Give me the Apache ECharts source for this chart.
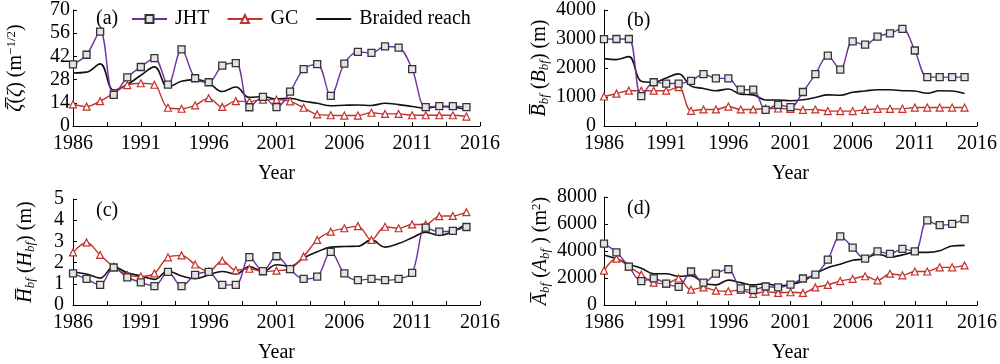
<!DOCTYPE html>
<html>
<head>
<meta charset="utf-8">
<script src="https://cdn.jsdelivr.net/npm/echarts@6/dist/echarts.min.js"></script>
<style>html,body{margin:0;padding:0;background:#fff}#c{width:1000px;height:364px}</style>
</head>
<body>
<div id="c"></div>
<script>
const years = [1986,1987,1988,1989,1990,1991,1992,1993,1994,1995,1996,1997,1998,1999,2000,2001,2002,2003,2004,2005,2006,2007,2008,2009,2010,2011,2012,2013,2014,2015];
const xLabelYears = [1986,1991,1996,2001,2006,2011,2016];
const xTickYears = [1986,1988.5,1991,1993.5,1996,1998.5,2001,2003.5,2006,2008.5,2011,2013.5,2016];
const seriesNames = ['JHT','GC','Braided reach'];

// (a) zeta
const zetaJHT = [37.2,43.0,57.0,18.8,29.4,35.6,40.9,25.0,46.2,28.8,26.4,36.4,38.0,11.3,17.6,11.4,20.8,34.3,37.3,18.2,37.6,44.7,44.1,48.0,47.3,34.3,11.4,12.0,12.0,11.4];
const zetaGC = [13.1,11.7,15.0,19.8,24.7,25.8,24.9,11.0,10.4,12.5,16.8,11.5,15.0,14.7,15.9,15.9,14.9,11.0,7.0,6.5,6.3,6.3,8.0,7.3,7.3,6.5,6.5,6.5,6.5,5.7];
const zetaBR = [32.0,32.5,37.5,21.6,25.0,30.6,35.7,23.5,27.0,28.0,26.0,20.8,23.5,17.3,17.8,16.3,16.7,14.9,13.7,12.2,12.5,12.7,12.4,13.7,12.9,11.8,10.8,11.8,11.4,10.0];
// (b) B_bf
const bJHT = [2994,3000,3000,1028,1508,1464,1464,1553,1788,1642,1642,1251,1251,559,726,648,1173,1788,2425,1944,2916,2804,3084,3196,3352,2603,1687,1687,1687,1687];
const bGC = [1017,1117,1218,1218,1218,1218,1341,525,570,570,670,570,570,603,603,592,559,570,514,514,514,559,592,592,592,637,637,637,637,637];
const bBR = [2324,2290,2391,1542,1508,1654,1799,1374,1296,1218,1274,1095,1073,894,894,872,905,983,1073,1061,1162,1207,1251,1251,1218,1207,1128,1218,1207,1117];
// (c) H_bf
const hJHT = [1.49,1.23,0.95,1.77,1.30,1.07,0.89,1.56,0.89,1.42,1.56,0.95,0.95,2.26,1.60,2.30,1.69,1.23,1.34,2.51,1.49,1.17,1.23,1.17,1.23,1.52,3.65,3.46,3.50,3.68];
const hGC = [2.48,2.95,2.36,1.80,1.42,1.34,1.49,2.25,2.34,1.91,1.58,2.09,1.64,1.71,1.58,1.62,1.71,2.29,3.07,3.46,3.62,3.72,3.07,3.69,3.62,3.80,3.80,4.19,4.20,4.38];
const hBR = [1.56,1.46,1.27,1.80,1.52,1.37,1.21,1.60,1.37,1.24,1.42,1.58,1.46,1.81,1.58,1.90,1.82,2.22,2.51,2.73,2.76,2.77,3.07,2.73,2.90,3.17,3.43,3.28,3.47,3.82];
// (d) A_bf
const aJHT = [4539,3900,2837,1773,1965,1582,1348,2482,1655,2317,2648,1229,1111,1371,1300,1513,1962,2246,3357,5083,4255,3428,3971,3782,4160,3971,6262,5910,6005,6359];
const aGC = [2553,3428,2837,2246,1655,1582,1962,1134,1300,1064,1017,1111,828,993,899,946,899,1300,1489,1773,1938,2128,1820,2317,2199,2482,2482,2790,2790,2931];
const aBR = [3711,3428,3026,2719,2317,2317,2128,2175,1655,1489,1844,1655,1489,1582,1418,1513,1773,2317,2766,3026,3310,3428,3782,3546,3711,3900,3900,4019,4374,4420];

const panels = [
  {label:'(a)', data:[zetaJHT,zetaGC,zetaBR], max:70, interval:14,
   name:'{ib|ζ\u0305}{n|(}{it|ζ}{n|) (m}{sup|−1/2}{n|)}', grid:{left:73,right:520,top:7,bottom:238}, lm:3, nameGap:46},
  {label:'(b)', data:[bJHT,bGC,bBR], max:4000, interval:1000,
   name:'{ib|B\u0305}{sub|bf}{n| (}{it|B}{sub|bf}{n|) (m)}', grid:{left:604,right:20,top:9,bottom:238}, lm:8, nameGap:53},
  {label:'(c)', data:[hJHT,hGC,hBR], max:5, interval:1,
   name:'{ib|H\u0305}{sub|bf}{n| (}{it|H}{sub|bf}{n|) (m)}', grid:{left:73,right:520,top:199,bottom:51}, lm:9, nameGap:36},
  {label:'(d)', data:[aJHT,aGC,aBR], max:8000, interval:2000,
   name:'{ib|A\u0305}{sub|bf}{n| (}{it|A}{sub|bf}{n| ) (m}{sup|2}{n|)}', grid:{left:604,right:20,top:197,bottom:54}, lm:7, nameGap:52}
];

const FONT = "'Liberation Serif','Times New Roman',serif";
const rich = {
  n:{fontFamily:FONT,fontSize:20,color:'#000',lineHeight:22},
  it:{fontFamily:FONT,fontSize:20,fontStyle:'italic',color:'#000',lineHeight:22},
  ib:{fontFamily:FONT,fontSize:20,fontStyle:'italic',color:'#000',lineHeight:22},
  sub:{fontFamily:FONT,fontSize:13,fontStyle:'italic',color:'#000',lineHeight:10,verticalAlign:'bottom'},
  sup:{fontFamily:FONT,fontSize:13,color:'#000',lineHeight:10,verticalAlign:'top'}
};
const plain = v => String(v);

const grids=[], xAxes=[], yAxes=[], series=[], titles=[];
panels.forEach((p,i)=>{
  grids.push(Object.assign({containLabel:false}, p.grid));
  xAxes.push({
    type:'value', gridIndex:i, min:1986, max:2016,
    name:'Year', nameLocation:'middle', nameGap:38,
    nameTextStyle:{fontFamily:FONT,fontSize:20,color:'#000'},
    axisLine:{lineStyle:{color:'#000',width:1}},
    axisTick:{inside:true,length:4,lineStyle:{color:'#000'},customValues:xTickYears},
    axisLabel:{fontFamily:FONT,fontSize:20,color:'#000',margin:8,customValues:xLabelYears,formatter:plain},
    splitLine:{show:false}
  });
  yAxes.push({
    type:'value', gridIndex:i, min:0, max:p.max, interval:p.interval,
    name:p.name, nameLocation:'middle', nameGap:p.nameGap, nameRotate:90,
    nameTextStyle:{rich:rich},
    axisLine:{show:true,lineStyle:{color:'#000',width:1}},
    axisTick:{show:true,inside:true,length:4,lineStyle:{color:'#000'}},
    axisLabel:{fontFamily:FONT,fontSize:20,color:'#000',margin:p.lm,formatter:plain},
    splitLine:{show:false}
  });
  titles.push({text:p.label, left:p.grid.left+18, top:p.grid.top-3, textStyle:{fontFamily:FONT,fontSize:20,fontWeight:'normal',color:'#000'}});
  const d = p.data;
  series.push({
    name:seriesNames[0], type:'line', xAxisIndex:i, yAxisIndex:i, z:4,
    data:years.map((y,k)=>[y,d[0][k]]), smooth:0.35,
    symbol:'rect', symbolSize:7,
    lineStyle:{color:'#7030A0',width:1.4},
    itemStyle:{color:'#e4e4e4',borderColor:'#333',borderWidth:1.3}
  });
  series.push({
    name:seriesNames[1], type:'line', xAxisIndex:i, yAxisIndex:i, z:3,
    data:years.map((y,k)=>[y,d[1][k]]), smooth:0.35,
    symbol:'triangle', symbolSize:7,
    lineStyle:{color:'#C3322B',width:1.4},
    itemStyle:{color:'#fff',borderColor:'#C3322B',borderWidth:1.2}
  });
  series.push({
    name:seriesNames[2], type:'line', xAxisIndex:i, yAxisIndex:i, z:2,
    data:years.map((y,k)=>[y,d[2][k]]), smooth:0.4,
    symbol:'none', showSymbol:false,
    lineStyle:{color:'#111',width:1.6},
    itemStyle:{color:'#111'}
  });
});

const chart = echarts.init(document.getElementById('c'), null, {renderer:'canvas'});
chart.setOption({
  animation:false,
  backgroundColor:'#fff',
  title:titles,
  legend:{
    data:[{name:'JHT'},{name:'GC'},{name:'Braided reach', itemStyle:{color:'rgba(0,0,0,0)',borderWidth:0,borderColor:'rgba(0,0,0,0)'}}],
    left:126, top:4, itemWidth:35, itemHeight:10, itemGap:17,
    textStyle:{fontFamily:FONT,fontSize:20,color:'#000',padding:[0,0,0,3]}},
  grid:grids, xAxis:xAxes, yAxis:yAxes, series:series
});
</script>
</body>
</html>
